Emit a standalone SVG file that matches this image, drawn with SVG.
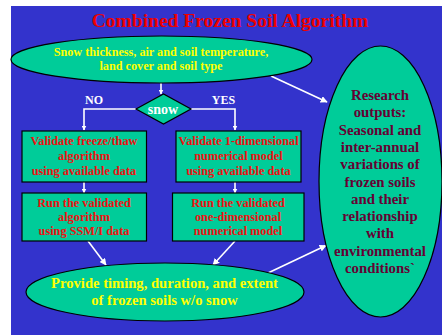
<svg xmlns="http://www.w3.org/2000/svg" width="442" height="335" viewBox="0 0 442 335">
<style>
text{font-family:"Liberation Serif","Times New Roman",serif;font-weight:bold;text-anchor:middle}
.shape{fill:#00cc99;stroke:#000;stroke-width:1.2}
.conn{fill:none;stroke:#fff;stroke-width:1.6}
.red{fill:#ee1111;font-size:12.3px}
.yel{fill:#ffff00}
.mar{fill:#660033;font-size:14.8px}
.wht{fill:#fff;font-size:12px}
</style>
<defs>
<marker id="ah" viewBox="0 0 10 10" refX="9" refY="5" markerWidth="5" markerHeight="5" orient="auto" markerUnits="userSpaceOnUse">
<path d="M0,0 L10,5 L0,10 z" fill="#fff"/>
</marker>
<marker id="ah2" viewBox="0 0 10 10" refX="9" refY="5" markerWidth="7" markerHeight="7" orient="auto" markerUnits="userSpaceOnUse">
<path d="M0,0 L10,5 L0,10 z" fill="#fff"/>
</marker>
</defs>
<rect x="11" y="6" width="431" height="329" fill="#3333cc"/>
<text x="230" y="27" style="fill:#ee0000;font-size:19.5px">Combined Frozen Soil Algorithm</text>

<g id="connectors">
<line class="conn" x1="161" y1="83" x2="161" y2="94" marker-end="url(#ah)"/>
<polyline class="conn" points="136,109 84,109 84,130" marker-end="url(#ah)"/>
<polyline class="conn" points="191,109 235,109 235,130" marker-end="url(#ah)"/>
<line class="conn" x1="84" y1="182" x2="84" y2="193" marker-end="url(#ah)"/>
<line class="conn" x1="235" y1="182" x2="235" y2="193" marker-end="url(#ah)"/>
<line class="conn" x1="88" y1="241" x2="106" y2="265" marker-end="url(#ah2)"/>
<line class="conn" x1="235" y1="241" x2="213" y2="265" marker-end="url(#ah2)"/>
<line class="conn" x1="268" y1="273" x2="326" y2="245.5" marker-end="url(#ah2)"/>
<line class="conn" x1="271" y1="76" x2="327" y2="102" marker-end="url(#ah2)"/>
</g>
<g id="labels">
<text class="wht" x="94" y="104">NO</text>
<text class="wht" x="223.5" y="104">YES</text>
</g>

<g id="inputs">
<ellipse class="shape" cx="161.5" cy="59.5" rx="150.5" ry="23.5"/>
<text class="yel" x="161" y="56" style="font-size:12.2px">Snow thickness, air and soil temperature,</text>
<text class="yel" x="161" y="70" style="font-size:12.2px">land cover and soil type</text>
</g>

<g id="snow">
<polygon class="shape" points="136,109 163.5,94 191,109 163.5,124"/>
<text class="wht" x="163" y="113.5" style="font-size:14px">snow</text>
</g>

<g id="validate-ft">
<rect class="shape" x="22" y="131" width="124.5" height="51"/>
<text class="red" x="84" y="145">Validate freeze/thaw</text>
<text class="red" x="84" y="160">algorithm</text>
<text class="red" x="84" y="175">using available data</text>
</g>

<g id="validate-1d">
<rect class="shape" x="176" y="131" width="125" height="51"/>
<text class="red" x="238.5" y="145">Validate 1-dimensional</text>
<text class="red" x="238.5" y="160">numerical model</text>
<text class="red" x="238.5" y="175">using available data</text>
</g>

<g id="run-ft">
<rect class="shape" x="22" y="193" width="124.5" height="48"/>
<text class="red" x="84" y="206.5">Run the validated</text>
<text class="red" x="84" y="220.5">algorithm</text>
<text class="red" x="84" y="235">using SSM/I data</text>
</g>

<g id="run-1d">
<rect class="shape" x="172.5" y="193" width="131.5" height="48"/>
<text class="red" x="238" y="206.5">Run the validated</text>
<text class="red" x="238" y="220.5">one-dimensional</text>
<text class="red" x="238" y="235">numerical model</text>
</g>

<g id="provide">
<ellipse class="shape" cx="165" cy="292" rx="139" ry="29"/>
<text class="yel" x="164.5" y="288" style="font-size:14.6px">Provide timing, duration, and extent</text>
<text class="yel" x="164.5" y="305" style="font-size:14.6px">of frozen soils w/o snow</text>
</g>

<g id="research">
<ellipse class="shape" cx="380.5" cy="181.5" rx="61.5" ry="135.5"/>
<text class="mar" x="380" y="100">Research</text>
<text class="mar" x="380" y="117.3">outputs:</text>
<text class="mar" x="380" y="134.6">Seasonal and</text>
<text class="mar" x="380" y="151.9">inter-annual</text>
<text class="mar" x="380" y="169.2">variations of</text>
<text class="mar" x="380" y="186.5">frozen soils</text>
<text class="mar" x="380" y="203.8">and their</text>
<text class="mar" x="380" y="221.1">relationship</text>
<text class="mar" x="380" y="238.4">with</text>
<text class="mar" x="380" y="255.7">environmental</text>
<text class="mar" x="380" y="273">conditions`</text>
</g>
</svg>
